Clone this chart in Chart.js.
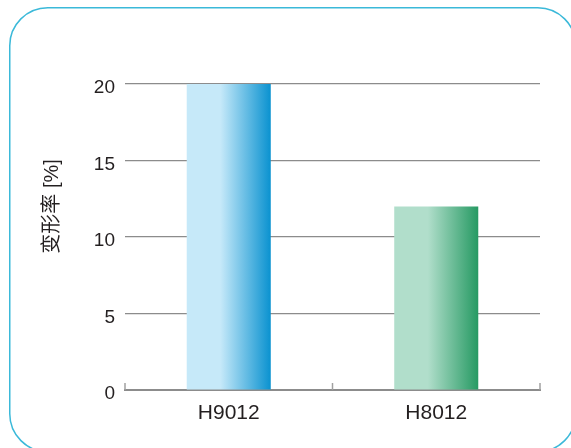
<!DOCTYPE html>
<html>
<head>
<meta charset="utf-8">
<script src="https://cdn.jsdelivr.net/npm/chart.js@4"></script>
<style>
  html, body { margin: 0; padding: 0; background: #fff; overflow: hidden; }
  canvas { display: block; }
</style>
</head>
<body>
<canvas id="myChart" width="571" height="448"></canvas>
<script>
// chart data
var categories = ['H9012', 'H8012'];
var values = [20, 12];
var yTicks = [0, 5, 10, 15, 20];
var yTitle = '变形率 [%]';
var lightCols = ['#c6e9f9', '#b1decb'];
var darkCols = ['#0a92d0', '#269a63'];

var barPart = 0.405;

function barFill(ctx) {
    var chart = ctx.chart;
    var i = ctx.dataIndex;
    if (!chart.chartArea || !chart.scales.x || i === undefined) return lightCols[i || 0];
    var xs = chart.scales.x;
    var cx = xs.getPixelForValue(i);
    var w = xs.width / categories.length * barPart;
    var g = chart.ctx.createLinearGradient(cx - w / 2, 0, cx + w / 2, 0);
    g.addColorStop(0, lightCols[i]);
    g.addColorStop(0.4, lightCols[i]);
    g.addColorStop(1, darkCols[i]);
    return g;
}

// rounded frame, little upward ticks on the x axis, rotated y title
var extras = {
    id: 'extras',
    beforeDraw: function(chart) {
        var c = chart.ctx;
        c.save();
        c.strokeStyle = '#3bb9d9';
        c.lineWidth = 1.5;
        c.beginPath();
        c.roundRect(9.75, 7.75, 566, 444, 38);
        c.stroke();
        c.restore();
    },
    afterDraw: function(chart) {
        var c = chart.ctx;
        var xs = chart.scales.x;
        var a = chart.chartArea;
        c.save();
        c.strokeStyle = '#a0a0a0';
        c.lineWidth = 1.5;
        var pts = [a.left];
        for (var k = 0; k < categories.length - 1; k++) {
            pts.push((xs.getPixelForValue(k) + xs.getPixelForValue(k + 1)) / 2);
        }
        pts.push(a.right);
        pts.forEach(function(p) {
            c.beginPath();
            c.moveTo(p, a.bottom);
            c.lineTo(p, a.bottom - 7);
            c.stroke();
        });
        c.translate(52, a.top + (a.bottom - a.top) * 0.4);
        c.rotate(-Math.PI / 2);
        c.fillStyle = '#231f20';
        c.font = '20px "Liberation Sans", "Noto Sans CJK SC", sans-serif';
        c.textAlign = 'center';
        c.textBaseline = 'middle';
        c.fillText(yTitle, 0, 0);
        c.restore();
    }
};

let chart1 = new Chart(document.getElementById('myChart').getContext('2d'), {
    type: 'bar',
    data: {
        labels: categories,
        datasets: [{
            data: values,
            backgroundColor: barFill,
            borderWidth: 0,
            barPercentage: 1,
            categoryPercentage: barPart
        }]
    },
    options: {
        responsive: false,
        animation: false,
        layout: { padding: { left: 0, top: 84, right: 31, bottom: 0 } },
        plugins: { legend: { display: false }, tooltip: { enabled: false } },
        scales: {
            x: {
                grid: { display: false },
                border: { display: true, color: '#8c8c8c', width: 2 },
                ticks: {
                    color: '#231f20', padding: 3,
                    font: { family: '"Liberation Sans", Arial, sans-serif', size: 21 }
                },
                afterFit: function(s) { s.height = 58; }
            },
            y: {
                min: 0, max: 20,
                afterBuildTicks: function(s) { s.ticks = yTicks.map(function(v) { return { value: v }; }); },
                grid: { color: '#8c8c8c', lineWidth: 1.2, drawTicks: false },
                border: { display: false },
                ticks: {
                    color: '#231f20', padding: 10, labelOffset: 4,
                    font: { family: '"Liberation Sans", Arial, sans-serif', size: 19 }
                },
                afterFit: function(s) { s.width = 125; }
            }
        }
    },
    plugins: [extras]
});
</script>
</body>
</html>
